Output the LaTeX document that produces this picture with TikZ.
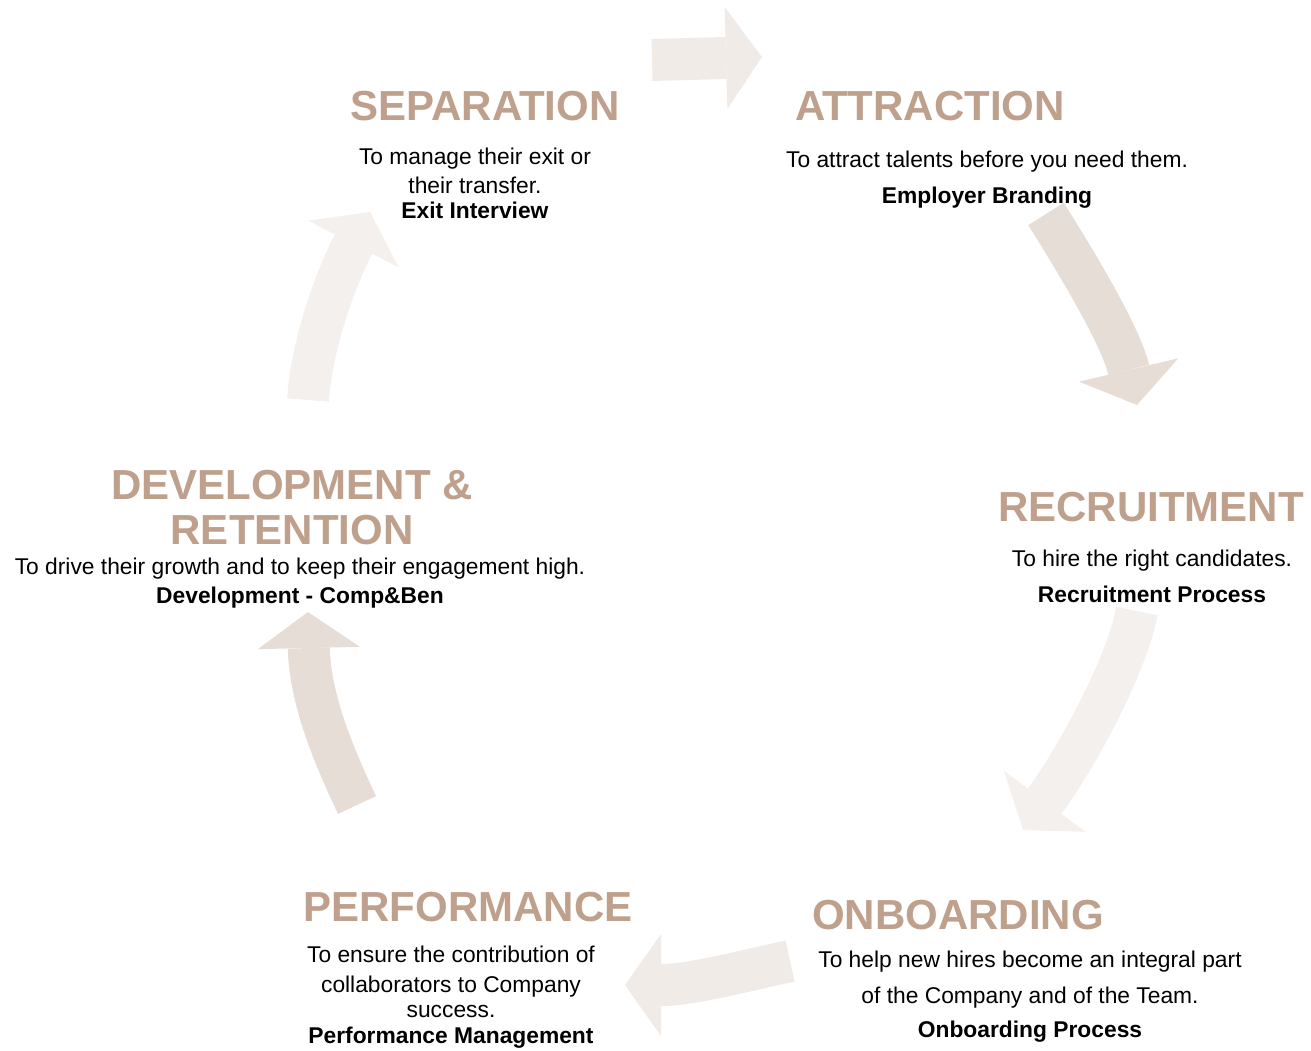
\documentclass[tikz,border=0pt]{standalone}
\usepackage{fontspec}
\setmainfont{Liberation Sans}
\usetikzlibrary{arrows.meta}
\definecolor{titlebrown}{RGB}{190,160,140}
\definecolor{arrowdark}{RGB}{230,221,215}
\definecolor{arrowmid}{RGB}{240,235,231}
\definecolor{arrowlight}{RGB}{243,240,237}
\begin{document}
\begin{tikzpicture}[x=0.5pt,y=-0.5pt,
    phase/.style={anchor=base,inner sep=0pt,text=titlebrown,font=\fontsize{21}{22.5}\selectfont\bfseries},
    desc/.style={anchor=base,inner sep=0pt,align=center,font=\fontsize{11.4}{14}\selectfont},
    cyclearrow/.style={line width=21pt,-{Triangle[width=51pt,length=18pt,line width=0pt]}}]
    \useasboundingbox (0,0) rectangle (1311,1050);
    % arrows of the cycle
    \coordinate (a1s) at (652,60);   \coordinate (a1e) at (762,57);
    \coordinate (a2s) at (1046,214); \coordinate (a2e) at (1137,405);
    \coordinate (a3s) at (1137,611); \coordinate (a3e) at (1023,830);
    \coordinate (a4s) at (790,961);  \coordinate (a4e) at (625,985);
    \coordinate (a5s) at (357,805);  \coordinate (a5e) at (308,612);
    \coordinate (a6s) at (308,400);  \coordinate (a6e) at (370,212);
    \draw[cyclearrow,arrowmid] (a1s) -- (a1e);
    \draw[cyclearrow,arrowdark] (a2s) .. controls (1080,268) and (1121,337) .. (a2e);
    \draw[cyclearrow,arrowlight] (a3s) .. controls (1125,672) and (1071,766) .. (a3e);
    \draw[cyclearrow,arrowmid] (a4s) .. controls (735,973) and (690,985) .. (a4e);
    \draw[cyclearrow,arrowdark] (a5s) .. controls (334,756) and (310,700) .. (a5e);
    \draw[cyclearrow,arrowlight] (a6s) .. controls (312,340) and (338,274) .. (a6e);
    % separation
    \node[phase] (sep) at (485,120) {SEPARATION};
    \node[desc] (sepdesc) at (475,218) {To manage their exit or\\[0.5pt]their transfer.\\[-1.5pt]\textbf{Exit Interview}};
    % attraction
    \node[phase] (att) at (930,120) {ATTRACTION};
    \node[desc] (attdesc) at (987,203) {To attract talents before you need them.\\[4pt]\textbf{Employer Branding}};
    % recruitment
    \node[phase] (rec) at (1151,521) {RECRUITMENT};
    \node[desc] (recdesc) at (1152,602) {To hire the right candidates.\\[4pt]\textbf{Recruitment Process}};
    % onboarding
    \node[phase] (onb) at (958,929) {ONBOARDING};
    \node[desc] (onbdesc) at (1030,1037) {To help new hires become an integral part\\[4pt]of the Company and of the Team.\\[3pt]\textbf{Onboarding Process}};
    % performance
    \node[phase] (perf) at (468,921) {PERFORMANCE};
    \node[desc] (perfdesc) at (451,1043) {To ensure the contribution of\\[1pt]collaborators to Company\\[-1.5pt]success.\\[-1pt]\textbf{Performance Management}};
    % development and retention
    \node[phase,align=center] (dev) at (292,544) {DEVELOPMENT \&\\RETENTION};
    \node[desc] (devdesc) at (300,603) {To drive their growth and to keep their engagement high.\\[0.5pt]\textbf{Development - Comp\&Ben}};
\end{tikzpicture}
\end{document}
